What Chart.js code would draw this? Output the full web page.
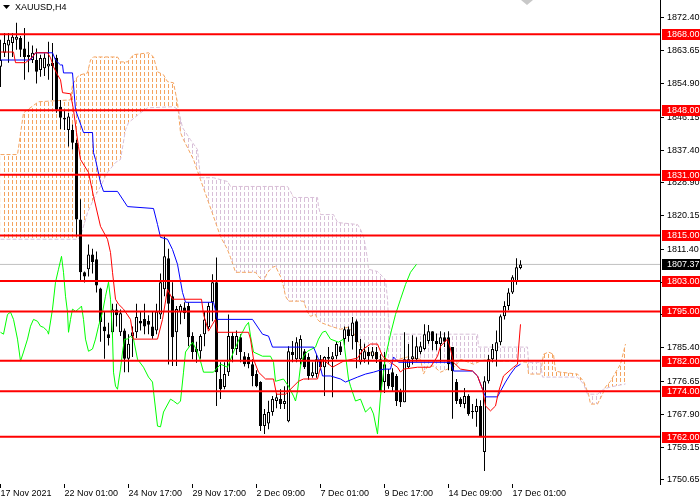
<!DOCTYPE html>
<html>
<head>
<meta charset="utf-8">
<script src="https://cdn.jsdelivr.net/npm/chart.js"></script>
<style>
body { margin: 0; background: #fff; }
canvas { display: block; }
</style>
</head>
<body>
<canvas id="myChart" width="700" height="500"></canvas>
<script>
// XAUUSD H4 candles, bar 0 = 17 Nov 09:00
const barOpen = [
1859.4,1863.1,1865.0,1865.7,1866.5,1867.0,1864.2,1862.5,1861.2,1861.2,
1858.6,1859.0,1859.5,1860.4,1861.8,1848.9,1846.0,1842.8,1842.8,1839.4,
1819.2,1805.3,1806.1,1810.0,1808.7,1801.0,1791.0,1789.0,1789.5,1795.5,
1789.5,1790.0,1782.5,1788.5,1789.5,1792.5,1793.0,1792.5,1791.0,1790.0,
1794.2,1800.8,1809.0,1799.0,1789.5,1794.8,1796.0,1796.4,1788.5,1785.1,
1784.5,1789.0,1790.8,1797.4,1802.7,1777.2,1775.1,1779.0,1788.5,1785.1,
1788.2,1783.2,1783.0,1781.1,1778.5,1776.4,1764.8,1765.5,1768.5,1771.4,
1771.9,1770.6,1766.1,1784.3,1782.4,1782.4,1784.5,1783.0,1778.0,1778.5,
1782.4,1780.3,1783.0,1782.4,1783.2,1785.8,1787.7,1790.3,1788.5,1792.4,
1781.6,1782.4,1784.3,1783.2,1784.3,1782.4,1776.4,1778.5,1779.0,1778.0,
1774.0,1771.1,1780.3,1782.4,1782.4,1784.3,1785.1,1787.2,1789.8,1787.2,
1786.4,1788.2,1788.2,1785.6,1776.4,1771.9,1770.6,1772.7,1768.8,1768.5,
1770.1,1758.0,1776.6,1782.4,1784.5,1786.9,1793.7,1796.4,1800.0,1802.9,
1806.4];
const barHigh = [
1866.5,1868.3,1868.3,1868.3,1871.0,1867.5,1869.6,1866.0,1865.0,1864.2,
1862.6,1863.0,1866.0,1865.7,1862.6,1850.7,1848.1,1847.3,1844.2,1840.2,
1824.5,1805.5,1812.6,1811.5,1810.8,1801.2,1795.0,1792.0,1797.0,1797.0,
1795.5,1790.5,1789.0,1791.0,1797.0,1795.0,1797.0,1794.0,1795.0,1797.0,
1805.0,1814.7,1811.5,1802.7,1796.4,1796.9,1797.4,1797.4,1789.5,1787.0,
1789.0,1795.0,1797.4,1804.8,1809.2,1781.6,1781.6,1794.2,1789.5,1790.0,
1789.0,1784.3,1784.0,1782.4,1779.5,1776.6,1769.3,1771.5,1772.7,1773.5,
1774.5,1775.3,1785.8,1787.2,1788.2,1788.7,1785.1,1784.0,1781.6,1783.5,
1783.5,1783.2,1785.6,1784.3,1787.0,1787.0,1791.0,1791.0,1793.5,1792.9,
1787.7,1786.5,1785.6,1785.6,1785.6,1783.7,1784.3,1779.8,1780.0,1778.5,
1774.6,1789.5,1786.4,1788.7,1788.2,1787.0,1791.6,1791.4,1789.8,1789.2,
1789.8,1789.5,1789.8,1785.6,1777.2,1772.4,1774.8,1773.2,1770.6,1772.0,
1771.6,1777.9,1783.5,1786.4,1790.0,1794.2,1797.7,1801.1,1804.5,1809.0,
1808.5];
const barLow = [
1854.1,1862.0,1860.5,1862.0,1863.9,1862.0,1856.0,1858.0,1860.4,1855.0,
1856.8,1857.0,1856.0,1850.7,1847.3,1843.0,1842.8,1838.4,1837.6,1814.7,
1802.8,1802.6,1804.2,1805.0,1800.0,1787.0,1782.5,1786.0,1788.0,1791.0,
1788.5,1779.0,1779.0,1783.0,1788.0,1790.0,1789.0,1789.0,1787.8,1789.0,
1793.0,1799.0,1781.0,1780.6,1780.6,1791.6,1793.0,1785.8,1782.4,1781.5,
1782.5,1785.8,1790.3,1792.4,1770.1,1771.9,1774.5,1778.0,1781.6,1783.5,
1781.6,1780.5,1780.0,1775.3,1775.0,1763.5,1762.7,1764.0,1767.5,1769.5,
1769.3,1769.3,1765.8,1781.6,1781.6,1781.0,1779.8,1777.0,1777.5,1777.5,
1779.5,1772.7,1781.0,1772.4,1782.4,1783.5,1786.0,1787.0,1785.0,1780.0,
1781.0,1781.5,1781.0,1782.5,1781.4,1773.7,1773.5,1774.6,1774.0,1770.1,
1769.8,1771.1,1780.0,1781.0,1781.8,1783.7,1784.8,1786.5,1784.8,1784.8,
1781.6,1785.6,1779.5,1766.7,1770.6,1769.8,1769.5,1767.5,1766.7,1764.6,
1762.0,1753.0,1776.0,1781.6,1780.5,1786.1,1792.9,1795.3,1799.6,1802.0,
1806.1];
const barClose = [
1861.2,1865.7,1866.5,1867.3,1867.3,1863.9,1862.0,1862.0,1863.1,1858.1,
1861.7,1861.8,1860.2,1859.6,1848.1,1846.0,1845.5,1846.3,1839.4,1819.2,
1805.3,1804.2,1810.0,1808.0,1801.8,1792.2,1789.8,1788.0,1795.5,1794.0,
1794.5,1782.5,1786.5,1789.5,1793.5,1791.8,1791.0,1791.5,1788.5,1795.0,
1802.7,1809.5,1797.0,1788.2,1795.6,1796.4,1794.5,1788.2,1784.3,1784.3,
1788.5,1792.9,1796.4,1802.7,1779.0,1774.5,1778.5,1788.5,1785.1,1788.5,
1784.3,1781.1,1781.1,1778.0,1775.3,1764.8,1768.0,1768.5,1771.9,1772.4,
1770.6,1771.4,1784.5,1783.5,1786.9,1787.7,1780.3,1778.0,1779.0,1782.4,
1780.3,1783.0,1782.5,1783.2,1786.4,1784.3,1790.3,1788.5,1792.1,1786.9,
1785.1,1784.5,1783.2,1784.5,1782.4,1774.0,1781.1,1775.3,1775.1,1771.4,
1771.1,1782.4,1782.4,1783.2,1785.8,1785.8,1789.0,1789.8,1787.2,1786.4,
1788.2,1787.0,1781.1,1779.3,1771.4,1770.6,1772.7,1768.0,1768.5,1770.1,
1762.2,1776.6,1782.4,1785.1,1786.9,1793.7,1796.4,1800.0,1804.0,1806.6,
1807.37];

// ichimoku lines as [bar, price] vertices
const tenkan = [[0,1863.3],[3.25,1863.3],[3.75,1860.5],[6.25,1860.5],[8,1862.0],[8.75,1863.1],[11.75,1863.1],[12.5,1861.8],[13.25,1859.4],[14.25,1857.3],[15,1856.0],[15.5,1852.6],[17.5,1852.3],[18.25,1848.1],[19,1842.1],[19.5,1838.4],[20,1835.0],[22,1831.6],[23.25,1825.3],[25,1817.4],[26.75,1814.0],[27.5,1810.5],[28,1805.3],[28.75,1798.2],[29.5,1796.9],[30.75,1795.6],[32.5,1792.9],[33.25,1787.7],[39.25,1787.7],[40.5,1792.9],[41.75,1800.8],[43,1798.2],[50.25,1798.2],[50.75,1794.2],[52,1789.8],[53,1791.6],[53.75,1792.9],[54.25,1789.5],[62,1789.5],[62.5,1787.7],[63.25,1782.4],[64.5,1779.0],[66.25,1777.2],[68.25,1777.2],[69,1773.2],[71.25,1773.2],[72.5,1774.5],[74.5,1776.6],[75.75,1777.2],[79.25,1777.2],[80.5,1782.4],[83,1780.3],[85.75,1781.9],[89.25,1782.7],[90.75,1785.1],[92.5,1786.4],[94.25,1786.4],[95.5,1783.2],[97.5,1781.6],[99.25,1780.3],[100,1779.0],[100.75,1779.8],[104.25,1780.3],[107.5,1780.3],[109.25,1783.2],[110,1785.8],[111.75,1787.7],[112.5,1785.1],[113.25,1781.6],[115,1779.8],[118,1779.3],[119.25,1778.0],[120.5,1774.5],[121.25,1770.1],[122.5,1768.8],[123.75,1770.1],[124.5,1773.8],[125.75,1778.0],[128.25,1780.3],[129.25,1781.1],[129.5,1785.1],[130,1791.6]];
const kijun = [[0,1861.2],[7.5,1861.2],[8.75,1863.1],[13,1863.1],[13.75,1861.2],[15,1859.9],[15.5,1859.9],[15.75,1857.8],[18,1857.8],[18.75,1848.1],[20.75,1842.1],[23,1842.1],[23.25,1836.8],[23.75,1835.0],[25,1828.9],[25.75,1826.6],[29.25,1826.6],[31.75,1822.6],[38.25,1822.1],[39.25,1817.9],[40,1814.5],[41.75,1814.0],[43,1811.3],[44.25,1807.4],[45.5,1800.0],[46.25,1797.4],[53.25,1797.4],[54.25,1792.9],[63,1792.9],[65.5,1789.0],[67,1788.5],[68,1785.6],[78.25,1785.6],[79.5,1782.4],[80.5,1778.0],[82.5,1778.0],[85,1777.2],[86.25,1776.4],[89.25,1777.7],[91.25,1778.5],[93.25,1779.0],[95.75,1779.8],[97.5,1779.8],[98.25,1783.0],[99.5,1781.6],[112.5,1781.6],[113.25,1779.3],[118,1779.3],[119.25,1778.0],[120.5,1774.5],[121.25,1772.5],[124.25,1772.5],[125,1774.0],[126.25,1776.4],[127.5,1778.5],[128.75,1780.3],[130,1781.1]];
const chikou = [[0,1789.5],[0.75,1789.0],[1.75,1794.2],[2.5,1794.8],[3.25,1792.9],[4.25,1787.7],[5,1781.9],[5.75,1784.3],[6.75,1787.7],[7.5,1791.1],[8.25,1792.9],[9.25,1792.4],[10,1791.1],[10.75,1790.8],[11.75,1789.8],[12,1789.0],[13,1795.6],[13.75,1802.7],[14.5,1806.1],[15.25,1809.5],[15.75,1805.3],[16.25,1799.0],[16.75,1794.8],[17,1789.5],[17.5,1792.9],[18,1795.6],[18.75,1795.0],[19.5,1795.6],[20.25,1796.4],[20.75,1792.9],[21.25,1787.7],[22,1784.5],[23,1785.1],[23.75,1787.7],[24.5,1791.1],[25.5,1794.8],[26.25,1799.0],[27,1802.7],[27.5,1798.2],[28,1788.5],[28.25,1779.0],[28.75,1775.3],[29.25,1774.5],[29.5,1776.4],[30,1779.8],[30.5,1784.3],[31,1787.7],[31.75,1787.7],[32.5,1788.5],[33.25,1787.7],[34.25,1782.4],[35.75,1780.3],[37,1777.7],[38,1776.4],[38.25,1774.0],[39.25,1764.8],[40,1764.6],[40.75,1768.5],[42.5,1771.9],[43.25,1771.4],[44.25,1770.6],[45,1771.4],[45.75,1779.0],[46.25,1784.3],[48,1786.9],[49.25,1784.3],[50,1781.9],[50.75,1779.0],[53.25,1779.0],[55,1781.1],[56.75,1780.3],[58.25,1784.3],[60,1788.5],[61.25,1791.1],[62,1792.1],[62.5,1788.5],[63.25,1784.3],[65.5,1783.2],[67.5,1783.2],[68.25,1781.6],[68.75,1776.6],[70.75,1777.2],[72,1775.3],[73.25,1772.7],[73.75,1771.4],[74.25,1774.0],[75,1780.6],[75.75,1783.2],[76.75,1784.5],[78.75,1785.6],[79.5,1787.7],[80.5,1789.5],[81.25,1789.8],[82.5,1787.7],[84.5,1786.9],[85.75,1787.7],[87,1777.2],[87.5,1775.3],[88.75,1771.4],[90,1771.9],[91.25,1768.5],[92.5,1769.8],[93.25,1768.0],[94.25,1762.7],[95,1772.7],[96.25,1783.0],[97.5,1789.0],[98.75,1794.2],[100,1798.2],[101.25,1802.1],[102.5,1805.3],[104,1807.4]];
const spanA = [[0,1836.3],[4.25,1836.3],[5.75,1847.3],[9.5,1850.2],[17.5,1850.7],[18,1854.7],[19.25,1856.8],[20,1857.3],[21.75,1857.8],[22.5,1861.2],[23.25,1862.0],[29.25,1862.0],[30,1860.7],[31.75,1860.7],[33.25,1862.6],[37,1863.1],[38.25,1862.0],[39.25,1858.1],[40.75,1857.3],[41.75,1855.5],[43.25,1855.2],[44.25,1849.9],[45,1842.1],[45.75,1840.2],[48.25,1835.0],[50,1829.7],[51.75,1824.5],[53.25,1820.0],[55,1814.7],[56.75,1811.3],[57.5,1809.2],[58.25,1806.9],[58.75,1805.3],[63.75,1805.3],[64.5,1804.2],[65.75,1802.9],[66.75,1805.3],[68,1806.6],[68.75,1806.9],[70,1804.2],[70.75,1801.6],[71.25,1799.0],[72,1797.7],[75.75,1797.7],[76.75,1794.8],[77.5,1793.7],[78.75,1794.2],[79.25,1792.9],[80,1792.1],[82.5,1791.1],[85,1790.3],[86.75,1790.8],[88.25,1789.5],[90,1785.8],[91.75,1784.3],[93.75,1783.7],[95.75,1782.4],[97.5,1781.1],[99.5,1782.4],[101.75,1783.0],[105,1782.4],[105.75,1778.5],[106.75,1780.6],[108.25,1780.6],[110,1779.0],[111.75,1779.8],[113.75,1780.6],[115,1782.4],[118.25,1781.1],[120,1781.9],[121.75,1782.4],[124.25,1781.9],[128.75,1781.9],[131.75,1781.6],[132,1778.5],[135,1778.5],[135.75,1783.7],[137,1784.3],[138.25,1783.7],[138.75,1779.3],[140,1779.0],[144.25,1778.5],[145.75,1776.6],[147,1773.2],[147.5,1770.6],[149.25,1770.6],[150.5,1773.2],[151.25,1775.1],[152.5,1776.6],[154.25,1779.8],[155,1781.1],[155.75,1784.3],[156.25,1786.4]];
const spanB = [[0,1814.0],[19.25,1814.0],[20,1814.7],[21.75,1821.0],[23.25,1824.5],[25,1827.9],[26.75,1831.6],[28.75,1834.2],[30,1835.0],[31.25,1842.8],[32,1844.7],[35,1847.3],[36.75,1848.6],[43.25,1848.9],[44.5,1848.1],[45.5,1843.4],[47.5,1840.2],[49.25,1837.6],[49.5,1835.0],[50,1830.2],[53.25,1830.2],[56.75,1829.2],[57.5,1827.9],[71.75,1827.9],[72.5,1826.6],[73.25,1825.0],[79.25,1825.0],[79.5,1822.6],[80,1820.5],[83.25,1820.5],[84.25,1818.4],[89.25,1817.9],[90,1816.6],[90.75,1814.7],[91.25,1812.1],[91.75,1808.7],[92,1806.1],[94.25,1805.5],[95.5,1804.2],[96.25,1803.4],[96.75,1798.2],[97,1792.9],[97.5,1789.0],[119.25,1789.0],[119.5,1785.6],[131.75,1785.6],[132,1781.6],[135,1781.6],[135.5,1777.7],[144.25,1777.7],[145.75,1775.9],[146.75,1773.2],[149.25,1773.2],[150.75,1774.5],[152.5,1775.1],[156.25,1775.9]];

const levels = [1868, 1848, 1831, 1815, 1803, 1795, 1782, 1774, 1762];
const lastPrice = 1807.37;
const yTicks = [1872.40, 1863.65, 1854.90, 1846.15, 1837.40, 1828.90, 1820.15, 1811.40, 1802.65, 1794.15, 1785.40, 1776.65, 1767.90, 1759.15, 1750.65];
const xTickBars = [0, 16, 32, 48, 64, 80, 96, 112, 128];
const xTickLabels = ['17 Nov 2021', '22 Nov 01:00', '24 Nov 17:00', '29 Nov 17:00', '2 Dec 09:00', '7 Dec 01:00', '9 Dec 17:00', '14 Dec 09:00', '17 Dec 01:00'];

const xMin = -0.125, xMax = 164.875;
const FONT = '"Liberation Sans", Arial, sans-serif';

function pts(list) {
    return list.map(p => ({x: p[0], y: p[1]}));
}

// vertical dotted columns, one per bar, like the MT4 cloud histogram
function dotPattern(color) {
    const c = document.createElement('canvas');
    c.width = 4; c.height = 6;
    const g = c.getContext('2d');
    g.fillStyle = color;
    g.fillRect(0, 0, 1, 4);
    return g.createPattern(c, 'repeat');
}

function lineSet(list, color, order) {
    return {
        type: 'line', data: pts(list), borderColor: color, borderWidth: 1,
        pointRadius: 0, tension: 0, fill: false, order: order
    };
}

const ctx = document.getElementById('myChart').getContext('2d');

let datasets = [
    {
        type: 'line', data: pts(spanA), borderColor: '#F4A460', borderWidth: 1, borderDash: [4, 2],
        pointRadius: 0, tension: 0, order: 20,
        fill: {target: '+1', above: dotPattern('#F4A460'), below: dotPattern('#D8BFD8')}
    },
    {
        type: 'line', data: pts(spanB), borderColor: '#D8BFD8', borderWidth: 1, borderDash: [4, 2],
        pointRadius: 0, tension: 0, fill: false, order: 19
    },
    {
        type: 'bar', data: barHigh.map((h, i) => ({x: i, y: [barLow[i], h]})),
        backgroundColor: '#000', borderWidth: 0, barThickness: 1, grouped: false,
        inflateAmount: 0, order: 12
    },
    {
        type: 'bar', data: barOpen.map((o, i) => ({x: i, y: [o, barClose[i]]})),
        backgroundColor: c => barClose[c.dataIndex] >= barOpen[c.dataIndex] ? '#fff' : '#000',
        borderColor: '#000', borderWidth: 1, borderSkipped: false, barThickness: 3,
        grouped: false, inflateAmount: 0, order: 11
    },
    lineSet(chikou, '#00FF00', 8),
    lineSet(kijun, '#0000FF', 7),
    lineSet(tenkan, '#FF0000', 6),
    {
        type: 'line', data: [{x: xMin, y: lastPrice}, {x: xMax, y: lastPrice}],
        borderColor: '#C0C0C0', borderWidth: 1, pointRadius: 0, fill: false, order: 14
    }
];
levels.forEach(v => {
    datasets.push({
        type: 'line', data: [{x: xMin, y: v}, {x: xMax, y: v}],
        borderColor: '#FF0000', borderWidth: 2, pointRadius: 0, fill: false, order: 1
    });
});

// price boxes on the axis, title and shift marker
const overlay = {
    id: 'overlay',
    afterDraw(chart) {
        const c = chart.ctx;
        const y = chart.scales.y;
        c.save();
        c.font = '9px ' + FONT;
        c.textBaseline = 'middle';
        levels.forEach(v => {
            const py = Math.round(y.getPixelForValue(v));
            c.fillStyle = '#FF0000';
            c.fillRect(662, py - 5, 38, 11);
            c.fillStyle = '#fff';
            c.fillText(v.toFixed(2), 667, py + 0.5);
        });
        const pp = Math.round(y.getPixelForValue(lastPrice));
        c.fillStyle = '#000';
        c.fillRect(662, pp - 5, 38, 11);
        c.fillStyle = '#fff';
        c.fillText(lastPrice.toFixed(2), 667, pp + 0.5);

        c.fillStyle = '#000';
        c.beginPath();
        c.moveTo(3, 5); c.lineTo(10, 5); c.lineTo(6.5, 9); c.closePath();
        c.fill();
        c.fillText('XAUUSD,H4', 15, 8);

        c.fillStyle = '#C8C8C8';
        c.beginPath();
        c.moveTo(521, 0); c.lineTo(533, 0); c.lineTo(527, 5); c.closePath();
        c.fill();
        c.restore();
    }
};

function noPad(s) {
    s.paddingLeft = 0; s.paddingRight = 0; s.paddingTop = 0; s.paddingBottom = 0;
}

const myChart = new Chart(ctx, {
    type: 'line',
    data: {datasets: datasets},
    options: {
        responsive: false,
        animation: false,
        events: [],
        layout: {padding: 0},
        plugins: {legend: {display: false}, tooltip: {enabled: false}},
        scales: {
            x: {
                type: 'linear', min: xMin, max: xMax, offset: false,
                grid: {drawOnChartArea: false, drawTicks: true, tickLength: 4, color: '#000', offset: false},
                border: {display: false},
                ticks: {
                    autoSkip: false, maxRotation: 0, minRotation: 0, align: 'start', padding: 0,
                    color: '#000', font: {family: FONT, size: 9},
                    callback: (v, i) => xTickLabels[i]
                },
                afterBuildTicks: s => { s.ticks = xTickBars.map(v => ({value: v})); },
                afterFit: s => { s.height = 16; noPad(s); }
            },
            y: {
                type: 'linear', position: 'right', min: 1749.55, max: 1877.0,
                grid: {drawOnChartArea: false, drawTicks: true, tickLength: 4, color: '#000'},
                border: {display: true, color: '#000'},
                ticks: {
                    autoSkip: false, padding: 3, color: '#000', font: {family: FONT, size: 9},
                    callback: v => v.toFixed(2)
                },
                afterBuildTicks: s => { s.ticks = yTicks.map(v => ({value: v})); },
                afterFit: s => { s.width = 40; noPad(s); }
            }
        }
    },
    plugins: [overlay]
});
</script>
</body>
</html>
